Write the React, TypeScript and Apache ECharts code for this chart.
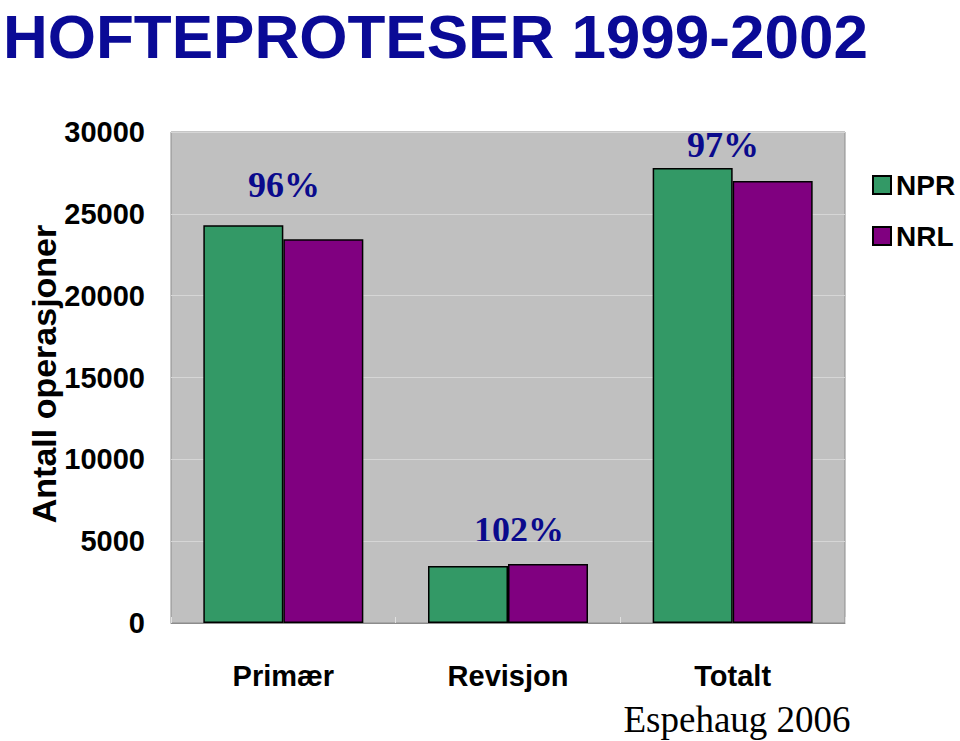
import React, { useEffect, useRef } from "react";
import * as echarts from "echarts";

const categories = ["Primær", "Revisjon", "Totalt"];
const npr = [24300, 3480, 27800];
const nrl = [23450, 3600, 27000];
const yTicks = [0, 5000, 10000, 15000, 20000, 25000, 30000];
const ratioLabels = ["96%", "102%", "97%"];
const titleText = "HOFTEPROTESER 1999-2002";
const yName = "Antall operasjoner";
const sourceText = "Espehaug 2006";

const SANS = "'Liberation Sans', Arial, sans-serif";
const SERIF = "'Liberation Serif', 'Times New Roman', serif";

export default function App() {
  const ref = useRef<HTMLDivElement>(null);
  useEffect(() => {
    if (!ref.current) return;
    const chart = echarts.init(ref.current, null, { renderer: "svg" });
    const ratioPos = [
      [284, 185],
      [519, 530],
      [723, 145],
    ];
    chart.setOption({
      animation: false,
      backgroundColor: "#ffffff",
      grid: {
        left: 171,
        right: 115,
        top: 132,
        bottom: 118,
        show: true,
        backgroundColor: "#C0C0C0",
        borderColor: "#8c8c8c",
        borderWidth: 1,
      },
      legend: {
        orient: "vertical",
        left: 872,
        top: 171,
        padding: 0,
        itemWidth: 18,
        itemHeight: 18,
        itemGap: 23,
        icon: "rect",
        textStyle: {
          fontFamily: SANS,
          fontWeight: "bold",
          fontSize: 28,
          color: "#000",
          lineHeight: 28,
        },
        data: ["NPR", "NRL"],
      },
      xAxis: {
        type: "category",
        data: categories,
        axisLine: { show: true, lineStyle: { color: "#8c8c8c", width: 1 } },
        axisTick: { show: true, inside: true, length: 6, lineStyle: { color: "#e0e0e0" } },
        axisLabel: {
          fontFamily: SANS,
          fontWeight: "bold",
          fontSize: 29,
          color: "#000",
          margin: 38,
        },
      },
      yAxis: {
        type: "value",
        min: yTicks[0],
        max: yTicks[yTicks.length - 1],
        interval: yTicks[1] - yTicks[0],
        axisLine: { show: false },
        axisTick: { show: false },
        splitLine: { show: true, lineStyle: { color: "#d6d6d6", width: 1 } },
        axisLabel: {
          fontFamily: SANS,
          fontWeight: "bold",
          fontSize: 29,
          color: "#000",
          margin: 26,
          formatter: (v: number) => String(v),
        },
      },
      series: [
        {
          name: "NPR",
          type: "bar",
          data: npr,
          barWidth: 80,
          barGap: "0%",
          itemStyle: { color: "#339966", borderColor: "#000", borderWidth: 1.5 },
        },
        {
          name: "NRL",
          type: "bar",
          data: nrl,
          barWidth: 80,
          barGap: "0%",
          itemStyle: { color: "#800080", borderColor: "#000", borderWidth: 1.5 },
        },
      ],
      graphic: [
        {
          type: "text",
          x: 3,
          y: 5,
          style: {
            text: titleText,
            fontFamily: SANS,
            fontWeight: "bold",
            fontSize: 62,
            lineHeight: 62,
            fill: "#0a0a96",
            align: "left",
            verticalAlign: "top",
          },
        },
        {
          type: "text",
          x: 44,
          y: 374,
          rotation: Math.PI / 2,
          style: {
            text: yName,
            fontFamily: SANS,
            fontWeight: "bold",
            fontSize: 34,
            fill: "#000",
            align: "center",
            verticalAlign: "middle",
          },
        },
        {
          type: "text",
          x: 737,
          y: 719,
          style: {
            text: sourceText,
            fontFamily: SERIF,
            fontSize: 37,
            fill: "#000",
            align: "center",
            verticalAlign: "middle",
          },
        },
        ...ratioLabels.map((t, i) => ({
          type: "text",
          x: ratioPos[i][0],
          y: ratioPos[i][1],
          style: {
            text: t,
            fontFamily: SERIF,
            fontWeight: "bold",
            fontSize: 36,
            fill: "#0a0a8c",
            align: "center",
            verticalAlign: "middle",
          },
        })),
      ],
    });
    return () => chart.dispose();
  }, []);
  return <div ref={ref} style={{ width: 960, height: 741, position: "absolute", left: 0, top: 0 }} />;
}
